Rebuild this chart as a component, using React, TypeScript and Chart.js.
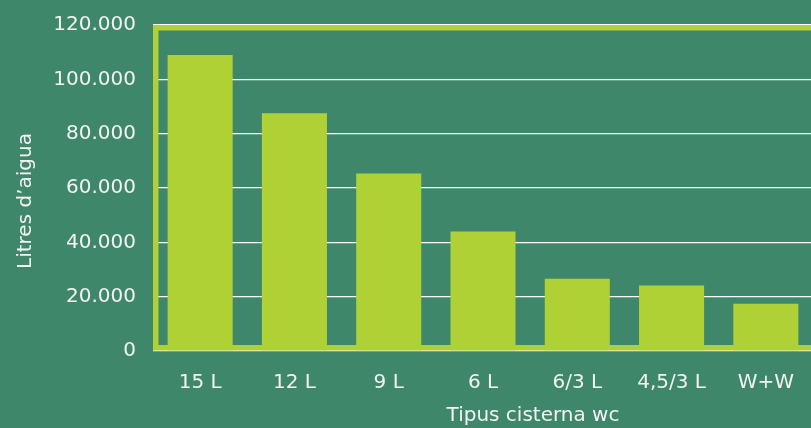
import { useEffect, useRef } from "react";
import { Chart, registerables } from "chart.js";

Chart.register(...registerables);

const categories = ["15 L", "12 L", "9 L", "6 L", "6/3 L", "4,5/3 L", "W+W"];
const litres = [109000, 87500, 65300, 44000, 26600, 24100, 17400];
const yTickValues = [0, 20000, 40000, 60000, 80000, 100000, 120000];
const yTickLabels = ["0", "20.000", "40.000", "60.000", "80.000", "100.000", "120.000"];
const xTitle = "Tipus cisterna wc";
const yTitle = "Litres d’aigua";

const BG = "#3e876a";
const LIME = "#afd136";
const TEXT = "#f2f2f2";
const FONT = "'DejaVu Sans', sans-serif";

const framePlugin = {
  id: "frame",
  beforeDraw(chart: any) {
    const { ctx, width, height } = chart;
    ctx.save();
    ctx.fillStyle = BG;
    ctx.fillRect(0, 0, width, height);
    ctx.restore();
  },
  beforeDatasetsDraw(chart: any) {
    const { ctx, chartArea } = chart;
    const lw = 5.5;
    ctx.save();
    ctx.strokeStyle = LIME;
    ctx.lineWidth = lw;
    ctx.strokeRect(
      chartArea.left + lw / 2,
      chartArea.top + lw / 2,
      chart.width + 40 - chartArea.left,
      chartArea.bottom - chartArea.top - lw - 0.5
    );
    ctx.restore();
  },
  afterDraw(chart: any) {
    const { ctx, chartArea } = chart;
    ctx.save();
    ctx.fillStyle = TEXT;
    ctx.font = `20px ${FONT}`;
    ctx.textAlign = "center";
    ctx.textBaseline = "middle";
    ctx.fillText(xTitle, (chartArea.left + chartArea.right) / 2 + 50, 416);
    ctx.translate(26, (chartArea.top + chartArea.bottom) / 2 + 13);
    ctx.rotate(-Math.PI / 2);
    ctx.fillText(yTitle, 0, 0);
    ctx.restore();
  },
};

export default function App() {
  const ref = useRef<HTMLCanvasElement>(null);
  useEffect(() => {
    const chart = new Chart(ref.current!, {
      type: "bar",
      data: {
        labels: categories,
        datasets: [
          {
            data: litres,
            backgroundColor: LIME,
            borderWidth: 0,
            categoryPercentage: 1,
            barPercentage: 0.69,
          },
        ],
      },
      options: {
        responsive: false,
        animation: false,
        layout: { padding: { top: 25, right: 17, left: 0, bottom: 0 } },
        plugins: { legend: { display: false }, tooltip: { enabled: false } },
        scales: {
          x: {
            border: { display: false },
            grid: { display: false, drawTicks: false },
            ticks: { color: TEXT, font: { family: FONT, size: 20 }, padding: 20, maxRotation: 0 },
            afterFit(scale: any) {
              scale.height = 77;
              scale.paddingLeft = 0;
              scale.paddingRight = 0;
            },
          },
          y: {
            min: 0,
            max: 120000,
            border: { display: false },
            grid: { color: "#ffffff", lineWidth: 1.3, drawTicks: false },
            afterBuildTicks(scale: any) {
              scale.ticks = yTickValues.map((v) => ({ value: v }));
            },
            ticks: {
              color: TEXT,
              font: { family: FONT, size: 20 },
              padding: 17,
              callback: (v: any) => yTickLabels[yTickValues.indexOf(Number(v))] ?? "",
            },
            afterFit(scale: any) {
              scale.width = 153;
              scale.paddingTop = 0;
              scale.paddingBottom = 0;
            },
          },
        },
      },
      plugins: [framePlugin],
    });
    return () => chart.destroy();
  }, []);
  return (
    <div
      style={{
        position: "fixed",
        left: 0,
        top: 0,
        width: 811,
        height: 428,
        overflow: "hidden",
        background: BG,
      }}
    >
      <canvas ref={ref} width={830} height={428} style={{ display: "block" }} />
    </div>
  );
}
